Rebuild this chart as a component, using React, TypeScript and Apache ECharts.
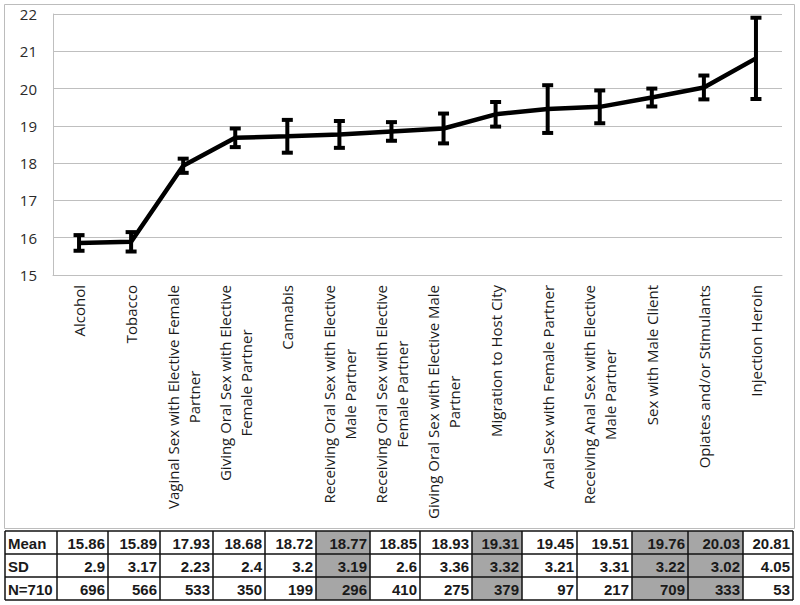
import React, { useEffect, useRef } from "react";
import * as echarts from "echarts";

const categories = [
  "Alcohol",
  "Tobacco",
  "Vaginal Sex with Elective Female\nPartner",
  "Giving Oral Sex with Elective\nFemale Partner",
  "Cannabis",
  "Receiving Oral Sex with Elective\nMale Partner",
  "Receiving Oral Sex with Elective\nFemale Partner",
  "Giving Oral Sex with Elective Male\nPartner",
  "Migration to Host City",
  "Anal Sex with Female Partner",
  "Receiving Anal Sex with Elective\nMale Partner",
  "Sex with Male Client",
  "Opiates and/or Stimulants",
  "Injection Heroin",
];
const meanValues = [15.86, 15.89, 17.93, 18.68, 18.72, 18.77, 18.85, 18.93, 19.31, 19.45, 19.51, 19.76, 20.03, 20.81];
const sdValues = [2.9, 3.17, 2.23, 2.4, 3.2, 3.19, 2.6, 3.36, 3.32, 3.21, 3.31, 3.22, 3.02, 4.05];
const nValues = [696, 566, 533, 350, 199, 296, 410, 275, 379, 97, 217, 709, 333, 53];
const errorLow = [15.65, 15.63, 17.74, 18.43, 18.28, 18.41, 18.6, 18.53, 18.98, 18.81, 19.07, 19.52, 19.71, 19.72];
const errorHigh = [16.07, 16.15, 18.12, 18.93, 19.16, 19.13, 19.1, 19.33, 19.64, 20.09, 19.95, 20.0, 20.35, 21.9];
const tableRowLabels = ["Mean", "SD", "N=710"];
const shadedColumns = [5, 8, 11, 12];
const yMin = 15;
const yMax = 22;
const yInterval = 1;

// layout constants
const COL_EDGES = [5, 57, 108, 160, 213, 265, 316, 370, 420, 472, 522, 577, 632, 688, 743, 793];
const ROW_EDGES = [531, 554, 577, 600];

function buildTable() {
  const rows = [meanValues, sdValues, nValues];
  const els: any[] = [];
  shadedColumns.forEach((c) => {
    els.push({
      type: "rect",
      shape: {
        x: COL_EDGES[c + 1],
        y: ROW_EDGES[0],
        width: COL_EDGES[c + 2] - COL_EDGES[c + 1],
        height: ROW_EDGES[3] - ROW_EDGES[0],
      },
      style: { fill: "#a6a6a6" },
    });
  });
  ROW_EDGES.forEach((y) => {
    els.push({
      type: "line",
      shape: { x1: COL_EDGES[0], y1: y, x2: COL_EDGES[COL_EDGES.length - 1], y2: y },
      style: { stroke: "#111", lineWidth: 1.5 },
    });
  });
  COL_EDGES.forEach((x) => {
    els.push({
      type: "line",
      shape: { x1: x, y1: ROW_EDGES[0], x2: x, y2: ROW_EDGES[3] },
      style: { stroke: "#111", lineWidth: 1.5 },
    });
  });
  const font = "bold 15px 'Liberation Sans', Arial, sans-serif";
  tableRowLabels.forEach((lab, r) => {
    const cy = (ROW_EDGES[r] + ROW_EDGES[r + 1]) / 2 + 0.5;
    els.push({
      type: "text",
      x: COL_EDGES[0] + 3,
      y: cy,
      style: { text: lab, font, fill: "#1a1a1a", align: "left", verticalAlign: "middle" },
    });
    rows[r].forEach((v, c) => {
      els.push({
        type: "text",
        x: COL_EDGES[c + 2] - 3,
        y: cy,
        style: { text: String(v), font, fill: "#1a1a1a", align: "right", verticalAlign: "middle" },
      });
    });
  });
  return els;
}

export default function App() {
  const ref = useRef<HTMLDivElement>(null);
  useEffect(() => {
    document.body.style.margin = "0";
    const chart = echarts.init(ref.current!, null, { renderer: "svg" });
    const errData = categories.map((_, i) => [i, errorLow[i], errorHigh[i]]);
    chart.setOption({
      animation: false,
      backgroundColor: "#fff",
      grid: { left: 53, right: 18, top: 14, bottom: 330, containLabel: false },
      xAxis: {
        type: "category",
        data: categories,
        boundaryGap: true,
        axisTick: { show: false },
        axisLine: { show: true, lineStyle: { color: "#bfbfbf", width: 1 } },
        axisLabel: {
          interval: 0,
          rotate: 90,
          margin: 10,
          color: "#1a1a1a",
          fontFamily: "'Open Sans', sans-serif",
          fontSize: 15,
          lineHeight: 21,
          formatter: (v: string) =>
            v
              .split("\n")
              .map((l) => "{c|" + l + "}")
              .join("\n"),
          rich: {
            c: {
              align: "center",
              fontFamily: "'Open Sans', sans-serif",
              fontSize: 15,
              lineHeight: 21,
              color: "#1a1a1a",
            },
          },
        },
      },
      yAxis: {
        type: "value",
        min: yMin,
        max: yMax,
        interval: yInterval,
        axisLine: { show: true, lineStyle: { color: "#bfbfbf", width: 1 } },
        axisTick: { show: false },
        splitLine: { show: true, lineStyle: { color: "#bfbfbf", width: 1 } },
        axisLabel: {
          margin: 16,
          color: "#2a2a2a",
          fontFamily: "'Open Sans', sans-serif",
          fontSize: 15,
        },
      },
      graphic: [
        {
          type: "rect",
          shape: { x: 4.5, y: 4.5, width: 790, height: 524 },
          style: { fill: "none", stroke: "#bcbcbc", lineWidth: 1 },
          silent: true,
        },
        ...buildTable(),
      ],
      series: [
        {
          type: "custom",
          data: errData,
          encode: { x: 0, y: [1, 2] },
          renderItem: (params: any, api: any) => {
            const i = api.value(0);
            const pLo = api.coord([i, api.value(1)]);
            const pHi = api.coord([i, api.value(2)]);
            const cap = 5.5;
            const st = { stroke: "#000", lineWidth: 4 };
            return {
              type: "group",
              children: [
                { type: "line", shape: { x1: pLo[0], y1: pLo[1], x2: pHi[0], y2: pHi[1] }, style: st },
                { type: "line", shape: { x1: pLo[0] - cap, y1: pLo[1], x2: pLo[0] + cap, y2: pLo[1] }, style: st },
                { type: "line", shape: { x1: pHi[0] - cap, y1: pHi[1], x2: pHi[0] + cap, y2: pHi[1] }, style: st },
              ],
            };
          },
          z: 3,
        },
        {
          type: "line",
          data: meanValues,
          symbol: "none",
          lineStyle: { color: "#000", width: 4.5 },
          itemStyle: { color: "#000" },
          z: 4,
        },
      ],
    });
    return () => chart.dispose();
  }, []);
  return <div ref={ref} style={{ width: 800, height: 605 }} />;
}
